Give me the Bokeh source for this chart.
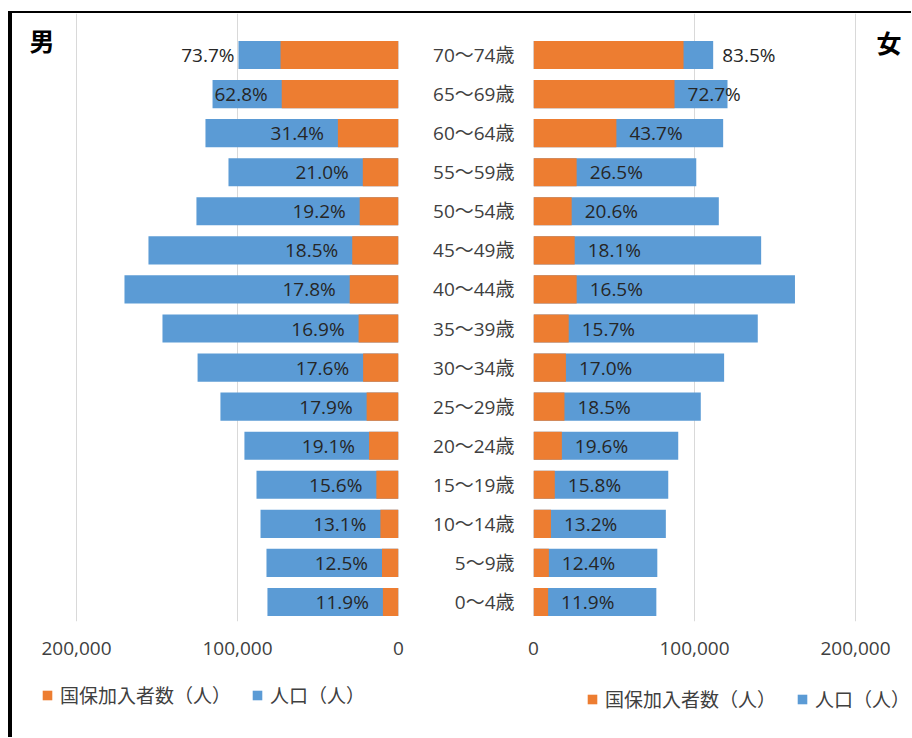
from bokeh.plotting import figure
from bokeh.models import (ColumnDataSource, Range1d, FixedTicker,
                          NumeralTickFormatter, Legend, LegendItem, Label, Spacer)
from bokeh.layouts import row, column
from bokeh.core.properties import value
from bokeh.embed import file_html
from bokeh.resources import INLINE

# ---------------- data (bottom -> top) ----------------
ages = ["0～4歳", "5～9歳", "10～14歳", "15～19歳", "20～24歳", "25～29歳", "30～34歳",
        "35～39歳", "40～44歳", "45～49歳", "50～54歳", "55～59歳", "60～64歳",
        "65～69歳", "70～74歳"]

male_pop = [81400, 82000, 85700, 88200, 95700, 110600, 124800, 146600, 170200,
            155300, 125500, 105600, 119900, 115500, 99400]
male_ins = [9690, 10250, 11230, 13760, 18280, 19800, 21970, 24780, 30300,
            28730, 24100, 22180, 37650, 72530, 73260]
male_pct = [11.9, 12.5, 13.1, 15.6, 19.1, 17.9, 17.6, 16.9, 17.8, 18.5, 19.2,
            21.0, 31.4, 62.8, 73.7]

female_pop = [76300, 76900, 82200, 83700, 89900, 103900, 118400, 139300, 162400,
              141400, 115100, 101100, 117800, 120500, 111600]
female_ins = [9080, 9540, 10850, 13230, 17620, 19220, 20130, 21870, 26800,
              25590, 23710, 26790, 51480, 87600, 93190]
female_pct = [11.9, 12.4, 13.2, 15.8, 19.6, 18.5, 17.0, 15.7, 16.5, 18.1, 20.6,
              26.5, 43.7, 72.7, 83.5]

axis_ticks = [0, 100000, 200000]
series_names = ["国保加入者数（人）", "人口（人）"]

ORANGE = "#ED7D31"
BLUE = "#5B9BD5"
GRID = "#D9D9D9"
TXT = "#404040"
NUM_FONT = "Open Sans, Noto Sans CJK JP"
JP_FONT = "Noto Sans CJK JP"

# ---------------- layout constants (pixels) ----------------
H = 657                  # height of the two chart panels
LEG_H = 67               # height of the legend strips below them
FRAME_H = 608            # plotting frame height
AXIS_PX = 322            # pixels from 0 to 200,000
ROW_PX = 586 / 15        # height of one age row
TOP_PAD = 22 / ROW_PX    # empty frame space above the top row (in rows)

M_W, M_FRAME_W = 398, 386        # male canvas / frame width
F_W, F_LEFT = 501, 123           # female canvas width / left border
F_FRAME_W = F_W - F_LEFT

idx = list(range(len(ages)))
NAN = float("nan")


def style_legend(leg):
    leg.orientation = "horizontal"
    leg.glyph_width = 12
    leg.glyph_height = 12
    leg.label_standoff = 7
    leg.spacing = 20
    leg.padding = 0
    leg.margin = 0
    leg.border_line_color = None
    leg.background_fill_alpha = 0
    leg.label_text_font = JP_FONT
    leg.label_text_font_size = "19px"
    leg.label_text_color = TXT


def legend_strip(width, loc):
    # legend-only strip: its key renderers hold no drawable bar (NaN)
    p = figure(width=width, height=LEG_H, x_range=Range1d(0, 1), y_range=Range1d(0, 1),
               output_backend="svg", toolbar_location=None, min_border=0)
    key = ColumnDataSource(dict(y=[NAN], right=[NAN]))
    ro = p.hbar(y="y", left=0, right="right", height=0.7, fill_color=ORANGE,
                line_color=None, source=key)
    rb = p.hbar(y="y", left=0, right="right", height=0.7, fill_color=BLUE,
                line_color=None, source=key)
    leg = Legend(items=[LegendItem(label=series_names[0], renderers=[ro]),
                        LegendItem(label=series_names[1], renderers=[rb])],
                 location=loc)
    style_legend(leg)
    p.add_layout(leg)
    p.axis.visible = False
    p.grid.visible = False
    p.outline_line_color = None
    return p


def side(pop, ins, pct, male):
    yr = Range1d(-0.5, len(ages) - 0.5 + TOP_PAD)
    if male:
        xr = Range1d(200000 * M_FRAME_W / AXIS_PX, 0)
        p = figure(width=M_W, height=H, x_range=xr, y_range=yr,
                   output_backend="svg", toolbar_location=None,
                   min_border_left=0, min_border_right=M_W - M_FRAME_W,
                   min_border_top=0, min_border_bottom=H - FRAME_H)
    else:
        xr = Range1d(0, 200000 * F_FRAME_W / AXIS_PX)
        p = figure(width=F_W, height=H, x_range=xr, y_range=yr,
                   output_backend="svg", toolbar_location=None,
                   min_border_left=F_LEFT, min_border_right=0,
                   min_border_top=0, min_border_bottom=H - FRAME_H)
    outside = [a == ages[-1] for a in ages]
    lx = [pp if o else ii for pp, ii, o in zip(pop, ins, outside)]
    if male:
        lxo = [-4 if o else -14 for o in outside]
    else:
        lxo = [9 if o else 13 for o in outside]
    src = ColumnDataSource(dict(y=idx, age=ages, pop=pop, ins=ins,
                                label=[f"{v:.1f}%" for v in pct], lx=lx, lxo=lxo))
    p.hbar(y="y", left=0, right="pop", height=0.72, fill_color=BLUE,
           line_color=None, source=src)
    p.hbar(y="y", left=0, right="ins", height=0.72, fill_color=ORANGE,
           line_color=None, source=src)
    p.text(x="lx", y="y", text="label", x_offset="lxo",
           text_align="right" if male else "left", text_baseline="middle",
           text_font=value(NUM_FONT), text_font_size="19px", text_color="#262626",
           source=src)

    p.xaxis.ticker = FixedTicker(ticks=axis_ticks)
    p.xaxis.formatter = NumeralTickFormatter(format="0,0")
    p.xaxis.axis_line_color = None
    p.xaxis.major_tick_line_color = None
    p.xaxis.minor_tick_line_color = None
    p.xaxis.major_tick_out = 0
    p.xaxis.minor_tick_out = 0
    p.xaxis.major_label_text_font = NUM_FONT
    p.xaxis.major_label_text_font_size = "19px"
    p.xaxis.major_label_text_color = TXT
    p.xaxis.major_label_standoff = 20
    p.xgrid.ticker = FixedTicker(ticks=axis_ticks)
    p.xgrid.grid_line_color = GRID
    p.ygrid.grid_line_color = None
    p.outline_line_color = None

    if male:
        p.yaxis.visible = False
    else:
        p.yaxis.ticker = FixedTicker(ticks=idx)
        p.yaxis.major_label_overrides = {i: a for i, a in zip(idx, ages)}
        p.yaxis.axis_line_color = None
        p.yaxis.major_tick_line_color = None
        p.yaxis.minor_tick_line_color = None
        p.yaxis.major_tick_out = 0
        p.yaxis.minor_tick_out = 0
        p.yaxis.major_label_text_font = NUM_FONT
        p.yaxis.major_label_text_font_size = "19px"
        p.yaxis.major_label_text_color = TXT
        p.yaxis.major_label_standoff = 19

    p.add_layout(Label(x=xr.start if male else xr.end, y=idx[-1],
                       x_offset=29.5 if male else -22.5,
                       y_offset=15 if male else 13.5,
                       text="男" if male else "女", text_font=JP_FONT,
                       text_font_style="bold", text_font_size="25px",
                       text_align="center", text_baseline="middle",
                       text_color="black"))
    return p


pm = side(male_pop, male_ins, male_pct, True)
pf = side(female_pop, female_ins, female_pct, False)
lm = legend_strip(M_W, (29, 29))
lf = legend_strip(F_W, (176, 25))

top_bar = Spacer(width=903, height=2, styles={"background-color": "black"})
left_bar = Spacer(width=4, height=H + LEG_H, styles={"background-color": "black"})
layout = column(Spacer(width=911, height=11),
                row(Spacer(width=8, height=2), top_bar),
                row(Spacer(width=8, height=H + LEG_H), left_bar,
                    column(row(pm, pf), row(lm, lf))))

open("out.html", "w").write(file_html(layout, INLINE))
